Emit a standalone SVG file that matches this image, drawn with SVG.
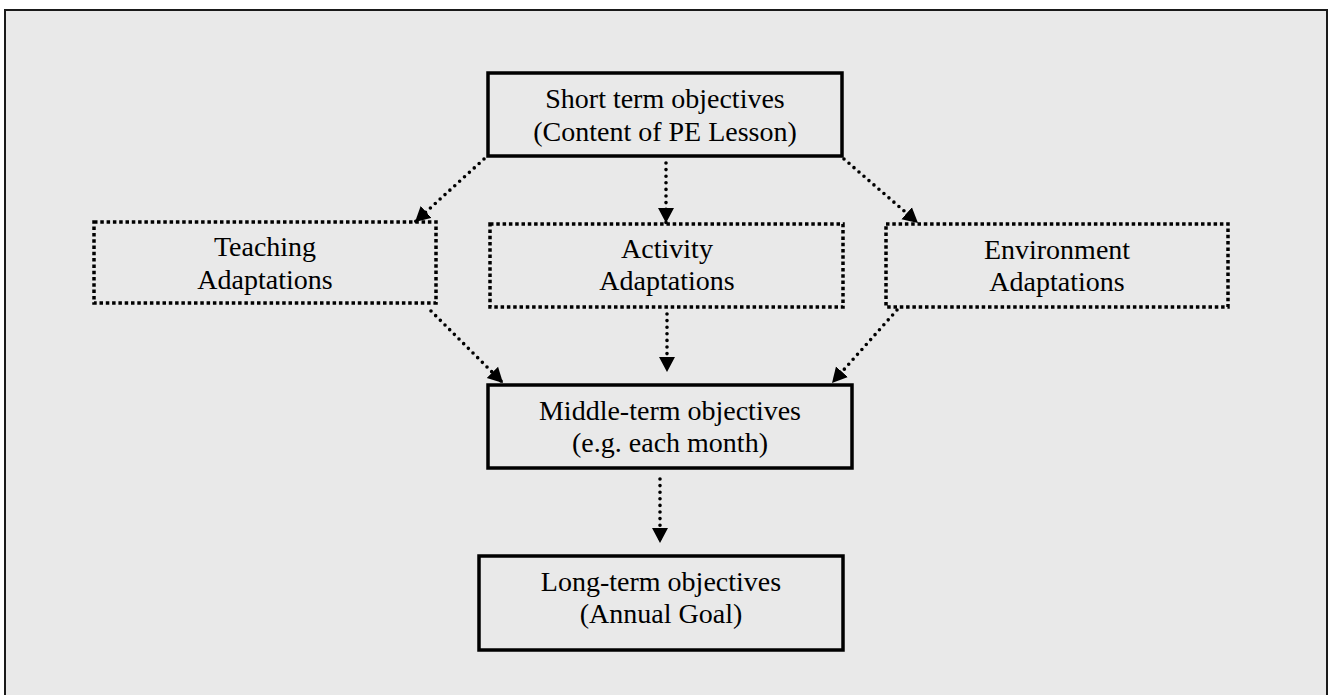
<svg xmlns="http://www.w3.org/2000/svg" width="1330" height="695" viewBox="0 0 1330 695">
<style>
.solid{fill:none;stroke:#000;stroke-width:3.5}
.dotbox{fill:none;stroke:#000;stroke-width:3.5;stroke-dasharray:3.5 2.8}
.conn{fill:none;stroke:#000;stroke-width:3.6;stroke-dasharray:0 6.6;stroke-linecap:round}
text{font-family:"Liberation Serif","Times New Roman",serif;font-size:28px;fill:#000;text-anchor:middle}
</style>
<defs>
<marker id="ah" markerUnits="userSpaceOnUse" markerWidth="16" markerHeight="17" refX="15" refY="8" orient="auto" viewBox="0 0 16 16">
<path d="M0,0 L15,8 L0,16 z" fill="#000"/>
</marker>
</defs>
<rect x="0" y="0" width="1330" height="695" fill="#fff"/>
<rect x="5" y="10" width="1322" height="700" fill="#e9e9e9" stroke="#1a1a1a" stroke-width="2"/>
<g id="connectors">
<line class="conn" x1="484" y1="159" x2="415" y2="222" marker-end="url(#ah)"/>
<line class="conn" x1="666" y1="163" x2="666" y2="223" marker-end="url(#ah)"/>
<line class="conn" x1="844" y1="159" x2="918" y2="223" marker-end="url(#ah)"/>
<line class="conn" x1="431" y1="311" x2="503" y2="383" marker-end="url(#ah)"/>
<line class="conn" x1="667" y1="314" x2="667" y2="372" marker-end="url(#ah)"/>
<line class="conn" x1="897" y1="310" x2="832" y2="383" marker-end="url(#ah)"/>
<line class="conn" x1="660" y1="479" x2="660" y2="543" marker-end="url(#ah)"/>
</g>
<g id="short-term">
<rect class="solid" x="488" y="73" width="354" height="83"/>
<text x="665" y="108">Short term objectives</text>
<text x="665" y="141">(Content of PE Lesson)</text>
</g>
<g id="teaching">
<rect class="dotbox" x="94" y="222" width="342" height="81"/>
<text x="265" y="256">Teaching</text>
<text x="265" y="289">Adaptations</text>
</g>
<g id="activity">
<rect class="dotbox" x="490" y="224" width="353" height="83"/>
<text x="667" y="258">Activity</text>
<text x="667" y="290">Adaptations</text>
</g>
<g id="environment">
<rect class="dotbox" x="886" y="224" width="342" height="83"/>
<text x="1057" y="259">Environment</text>
<text x="1057" y="291">Adaptations</text>
</g>
<g id="middle-term">
<rect class="solid" x="488" y="385" width="364" height="83"/>
<text x="670" y="420">Middle-term objectives</text>
<text x="670" y="452">(e.g. each month)</text>
</g>
<g id="long-term">
<rect class="solid" x="479" y="556" width="364" height="94"/>
<text x="661" y="591">Long-term objectives</text>
<text x="661" y="623">(Annual Goal)</text>
</g>
</svg>
